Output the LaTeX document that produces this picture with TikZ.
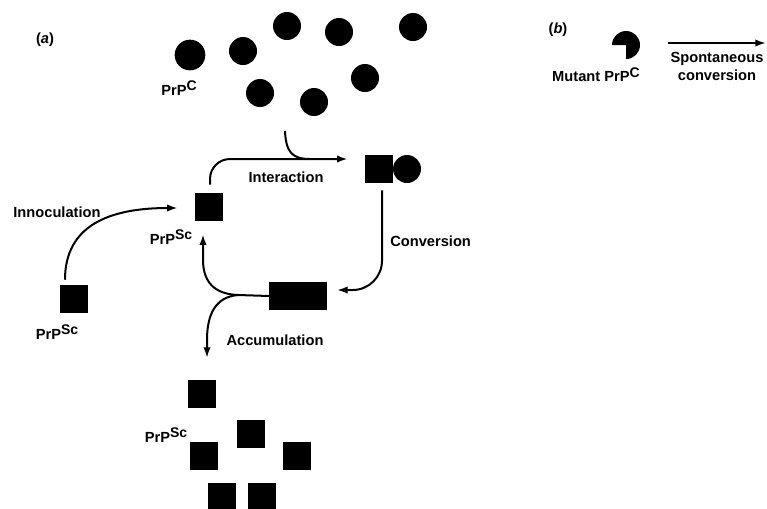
\documentclass[tikz,border=0pt]{standalone}
\usepackage{fontspec}
\setmainfont{Liberation Sans}
\usetikzlibrary{arrows.meta,calc}
\newcommand\supx[1]{\raisebox{0.55ex}{\fontsize{10.5}{10.5}\selectfont #1}}
\begin{document}
\begin{tikzpicture}[x=0.75pt,y=-0.75pt,
  dot/.style={circle,fill=black,inner sep=0pt,minimum size=21pt},
  sq/.style={rectangle,fill=black,inner sep=0pt,minimum size=21pt},
  lbl/.style={font=\fontsize{11}{13}\selectfont\bfseries,inner sep=0pt},
  conn/.style={line width=1.5pt},
  arr/.style={conn,-{Latex[length=8pt,width=5.5pt]}}]
\useasboundingbox (0,0) rectangle (767,508);
% (a) PrP^C pool
\node[lbl] (la) at (45,40) {(\textit{a})};
\node[dot,minimum size=23pt] (c1) at (190,55) {};
\node[dot] (c2) at (243,51) {};
\node[dot] (c3) at (287,26) {};
\node[dot] (c4) at (339,32) {};
\node[dot] (c5) at (413,27) {};
\node[dot] (c6) at (365,78) {};
\node[dot] (c7) at (260,93) {};
\node[dot] (c8) at (314,102) {};
\node[lbl] (lc) at (179,88) {PrP\supx{C}};
% cycle
\node[sq] (top) at (209,207) {};
\node[lbl] (ltop) at (171,237) {PrP\supx{Sc}};
\node[sq] (cpxs) at (379,169) {};
\node[dot] (cpxc) at (407,169) {};
\node[rectangle,fill=black,inner sep=0pt,minimum width=43pt,minimum height=21pt] (agg) at (298,296) {};
\node[sq] (left) at (74,299) {};
\node[lbl] (lleft) at (57,332) {PrP\supx{Sc}};
\coordinate (hk) at (285,131);
\coordinate (br) at (238,295);
% labels
\node[lbl] (lint) at (286,177) {Interaction};
\node[lbl,anchor=west] (lconv) at (390,241) {Conversion};
\node[lbl] (lacc) at (275,340) {Accumulation};
\node[lbl] (linn) at (57,212) {Innoculation};
% connectors
\draw[arr,rounded corners=15pt] ($(top.north)+(1,-8)$) |- ($(cpxs.west)+(-17,-10)$);
\draw[conn] (hk) .. controls (286,152) and (292,159) .. (310,159);
\draw[arr,rounded corners=22pt] ($(cpxs.south)+(3,7)$) |- ($(agg.east)+(10,-6)$);
\draw[conn] (agg.west) -- (br);
\draw[arr] (br) .. controls (214,294) and (204,282) .. (203,262) -- ($(top.south)+(-6,13)$);
\draw[arr] (br) .. controls (215,297) and (207,315) .. (207,340) -- (207,358);
\draw[arr] ($(left.north)+(-9,-5)$) .. controls (65,225) and (110,208) .. ($(top.west)+(-17,1)$);
% accumulated PrP^Sc
\node[sq] (b1) at (202,394) {};
\node[sq] (b2) at (251,434) {};
\node[sq] (b3) at (204,456) {};
\node[sq] (b4) at (297,456) {};
\node[sq] (b5) at (222,497) {};
\node[sq] (b6) at (262,497) {};
\node[lbl] (lbot) at (166,435) {PrP\supx{Sc}};
% (b)
\node[lbl] (lb) at (558,30) {(\textit{b})};
\fill (626,45) coordinate (mc) -- ++(180:14) arc[start angle=180,end angle=450,radius=14] -- cycle;
\node[lbl] (lmut) at (596,75) {Mutant PrP\supx{C}};
\coordinate (sp1) at (668,43);
\coordinate (sp2) at (766,43);
\draw[arr] (sp1) -- (sp2);
\node[lbl] (lsp) at (717,59) {Spontaneous};
\node[lbl] (lcv) at (717,75) {conversion};
\end{tikzpicture}
\end{document}
